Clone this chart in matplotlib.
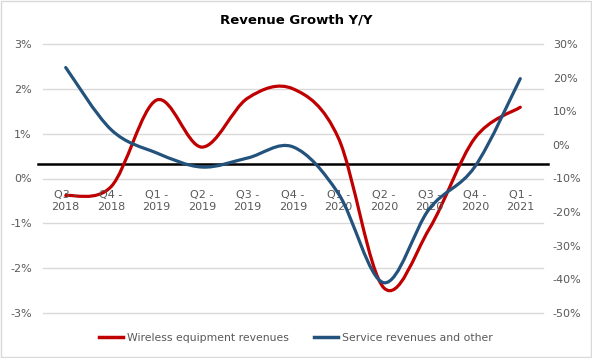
import matplotlib.pyplot as plt
from matplotlib.path import Path
from matplotlib.patches import PathPatch, Rectangle
from matplotlib.lines import Line2D

quarters = ["Q3 -\n2018", "Q4 -\n2018", "Q1 -\n2019", "Q2 -\n2019", "Q3 -\n2019", "Q4 -\n2019",
            "Q1 -\n2020", "Q2 -\n2020", "Q3 -\n2020", "Q4 -\n2020", "Q1 -\n2021"]
# wireless equipment, left axis (%)
wireless = [-0.38, -0.18, 1.75, 0.70, 1.79, 2.00, 0.90, -2.44, -1.12, 0.90, 1.59]
# service revenues and other, right axis (%)
service = [23.0, 4.5, -2.4, -6.6, -3.9, -0.6, -14.5, -41.0, -19.0, -6.5, 19.7]
left_ticks = [-3, -2, -1, 0, 1, 2, 3]
right_ticks = [-50, -40, -30, -20, -10, 0, 10, 20, 30]
axis_line = 0.32

red = '#c00000'
blue = '#23527c'
grey = '#595959'


def smooth(xs, ys):
    # excel-like smoothed line: bezier segments with catmull-rom control points
    pts = list(zip(xs, ys))
    n = len(pts)
    verts = [pts[0]]
    codes = [Path.MOVETO]
    for i in range(n - 1):
        p0 = pts[max(i - 1, 0)]
        p1 = pts[i]
        p2 = pts[i + 1]
        p3 = pts[min(i + 2, n - 1)]
        c1 = (p1[0] + (p2[0] - p0[0]) / 6, p1[1] + (p2[1] - p0[1]) / 6)
        c2 = (p2[0] - (p3[0] - p1[0]) / 6, p2[1] - (p3[1] - p1[1]) / 6)
        verts += [c1, c2, p2]
        codes += [Path.CURVE4] * 3
    return Path(verts, codes)


fig = plt.figure(figsize=(5.92, 3.58), dpi=100)
ax = fig.add_axes([43 / 592, 1 - 313 / 358, 500 / 592, 269 / 358])
ax2 = ax.twinx()

x = list(range(len(quarters)))
ax.set_xlim(-0.5, len(quarters) - 0.5)
ax.set_ylim(-3, 3)
ax2.set_ylim(-50, 30)

ax.set_yticks(left_ticks)
ax.set_yticklabels([f"{t}%" for t in left_ticks])
ax2.set_yticks(right_ticks)
ax2.set_yticklabels([f"{t}%" for t in right_ticks])
ax.set_xticks([])

for a in (ax, ax2):
    for s in a.spines.values():
        s.set_visible(False)
    a.tick_params(axis='y', length=0, labelsize=8, labelcolor=grey)
ax.tick_params(axis='y', pad=8)
ax2.tick_params(axis='y', pad=7)

ax.grid(axis='y', color='#d9d9d9', lw=1)
for gl in ax.get_ygridlines():
    gl.set_clip_on(False)
ax.set_axisbelow(True)

ax.add_patch(PathPatch(smooth(x, wireless), fill=False, edgecolor=red, lw=2.3,
                       capstyle='round', zorder=3))
ax2.add_patch(PathPatch(smooth(x, service), fill=False, edgecolor=blue, lw=2.3,
                        capstyle='round', zorder=3))

ax.plot([-0.6, len(quarters) - 0.4], [axis_line, axis_line], color='black', lw=1.8,
        clip_on=False, zorder=2)

for i, q in enumerate(quarters):
    ax.text(i, 0.415, q, transform=ax.get_xaxis_transform(), ha='center', va='center',
            fontsize=8, color=grey, linespacing=1.25)

fig.text(0.5, 1 - 20 / 358, "Revenue Growth Y/Y", ha='center', va='center',
         fontsize=9.5, fontweight='bold', color='black')

handles = [Line2D([], [], color=red, lw=2.5), Line2D([], [], color=blue, lw=2.5)]
fig.legend(handles, ["Wireless equipment revenues", "Service revenues and other"],
           loc='center', bbox_to_anchor=(0.5, 1 - 338 / 358), ncol=2, frameon=False,
           fontsize=7.8, labelcolor=grey, handlelength=2.2, handletextpad=0.4,
           columnspacing=2.3)

fig.add_artist(Rectangle((0.001, 0.002), 0.997, 0.995, transform=fig.transFigure,
                         fill=False, edgecolor='#d9d9d9', lw=1))

fig.savefig('out.png', dpi=100)
